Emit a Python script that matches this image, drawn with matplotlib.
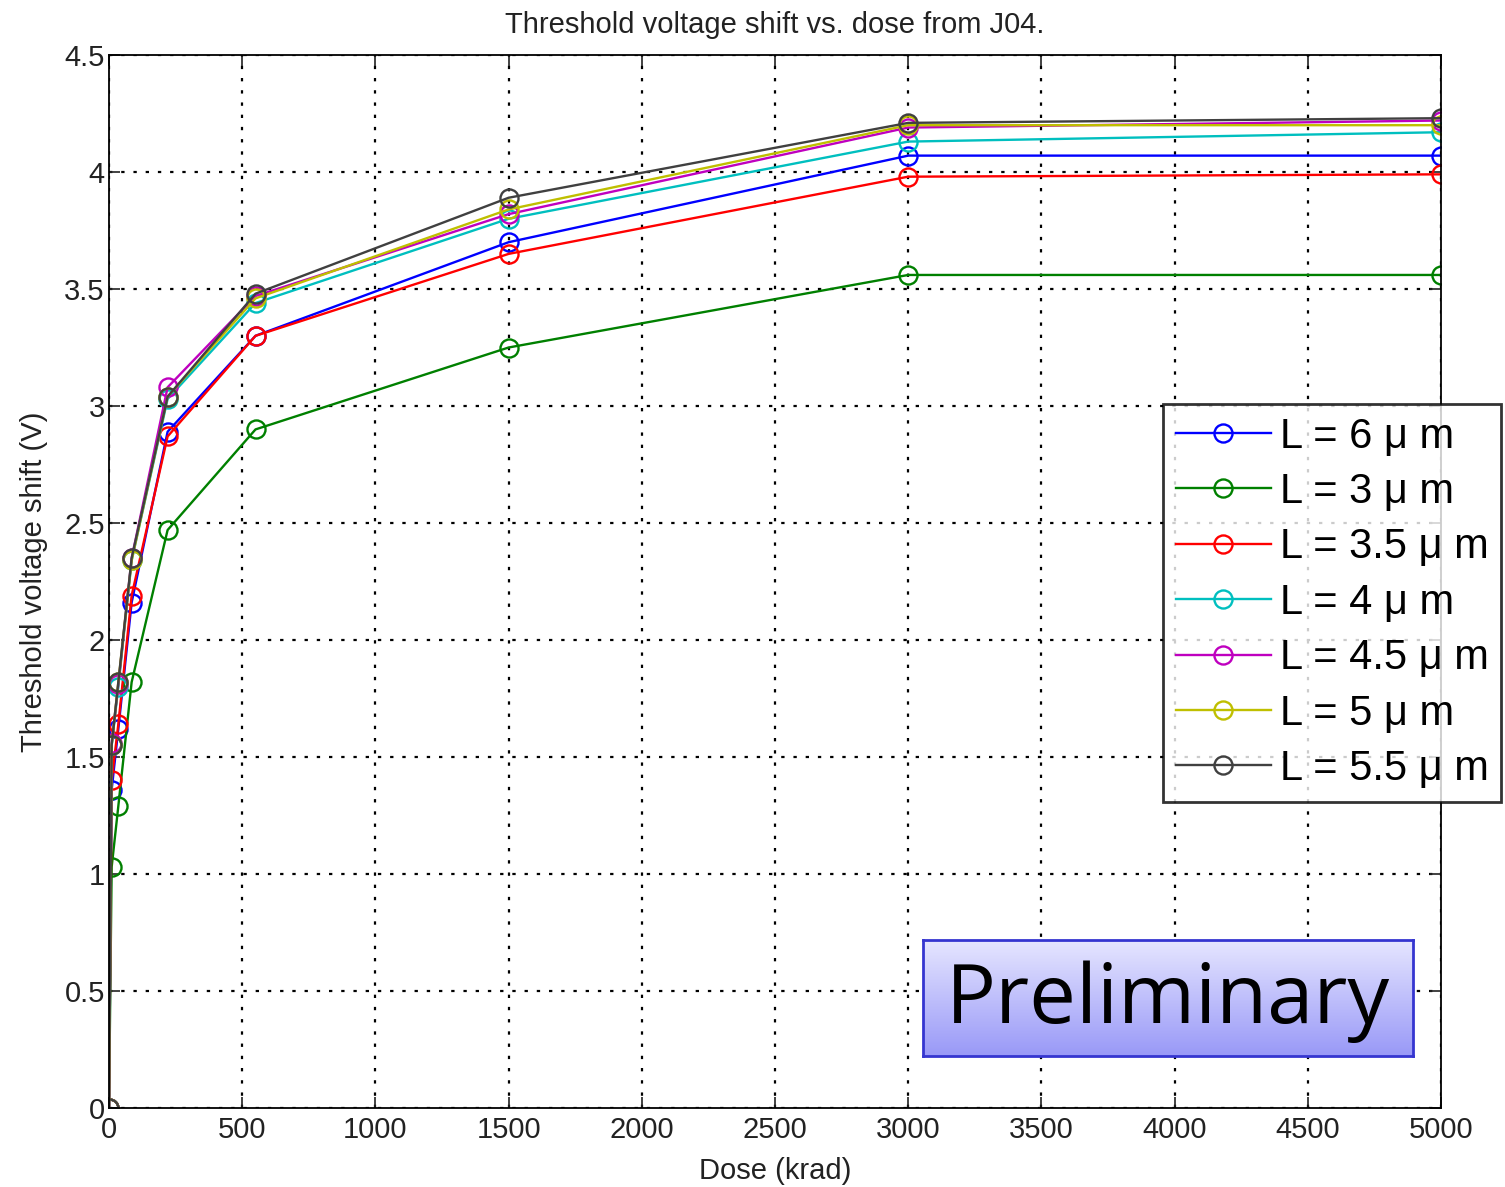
import numpy as np
import matplotlib.pyplot as plt

dose = [0, 10, 35, 85, 220, 550, 1500, 3000, 5000]

l6 = [0, 1.36, 1.62, 2.16, 2.89, 3.30, 3.70, 4.07, 4.07]
l3 = [0, 1.03, 1.29, 1.82, 2.47, 2.90, 3.25, 3.56, 3.56]
l35 = [0, 1.40, 1.64, 2.19, 2.87, 3.30, 3.65, 3.98, 3.99]
l4 = [0, 1.55, 1.80, 2.34, 3.03, 3.44, 3.80, 4.13, 4.17]
l45 = [0, 1.56, 1.81, 2.35, 3.08, 3.47, 3.82, 4.19, 4.22]
l5 = [0, 1.55, 1.82, 2.34, 3.04, 3.46, 3.84, 4.20, 4.20]
l55 = [0, 1.55, 1.82, 2.35, 3.04, 3.48, 3.89, 4.21, 4.23]

series = [l6, l3, l35, l4, l45, l5, l55]
labels = ['L = 6 μ m', 'L = 3 μ m', 'L = 3.5 μ m', 'L = 4 μ m',
          'L = 4.5 μ m', 'L = 5 μ m', 'L = 5.5 μ m']
colors = ['#0000ff', '#008000', '#ff0000', '#00bfbf', '#bf00bf', '#bfbf00', '#404040']

plt.rcParams['font.family'] = ['Liberation Sans', 'DejaVu Sans']

W, H = 1505, 1187
fig = plt.figure(figsize=(W / 100, H / 100), dpi=100)
ax = fig.add_axes([109 / W, 1 - 1108 / H, (1441 - 109) / W, (1108 - 55) / H])

for y, lab, c in zip(series, labels, colors):
    ax.plot(dose, y, '-o', color=c, label=lab, lw=1.7, ms=13,
            mfc='none', mew=1.7)

ax.set_xlim(0, 5000)
ax.set_ylim(0, 4.5)
ax.set_xticks(np.arange(0, 5001, 500))
ax.set_yticks(np.arange(0, 4.51, 0.5))
ax.set_yticklabels(['0', '0.5', '1', '1.5', '2', '2.5', '3', '3.5', '4', '4.5'])
ax.tick_params(direction='in', length=8, width=1.2, labelsize=21, pad=6,
               top=True, right=True, colors='#222222')
ax.tick_params(axis='y', pad=3)
ax.grid(True, color='black', linestyle=(0, (1.5, 4)), linewidth=1.6)
for s in ax.spines.values():
    s.set_linewidth(1.3)

ax.set_title('Threshold voltage shift vs. dose from J04.', fontsize=21, pad=16,
             color='#222222')
ax.set_xlabel('Dose (krad)', fontsize=21, labelpad=9, color='#222222')
ax.set_ylabel('Threshold voltage shift (V)', fontsize=21, labelpad=12,
              color='#222222')

leg = fig.legend(loc='upper left', bbox_to_anchor=(1163 / W, 1 - 404 / H),
                 fontsize=30, frameon=True, fancybox=False, handlelength=2.3,
                 labelspacing=0.37, borderpad=0.3, handletextpad=0.2,
                 borderaxespad=0)
leg.get_frame().set_edgecolor('black')
leg.get_frame().set_linewidth(2)

# "Preliminary" stamp with a vertical gradient
bx = fig.add_axes([923 / W, 1 - 1056 / H, 490 / W, 116 / H])
top = np.array([0.90, 0.90, 1.0])
bot = np.array([0.60, 0.60, 0.97])
t = np.linspace(0, 1, 100)[:, None, None]
grad = top * (1 - t) + bot * t
grad = np.repeat(grad, 2, axis=1)
bx.imshow(grad, aspect='auto', extent=[0, 1, 0, 1])
bx.set_xticks([])
bx.set_yticks([])
for s in bx.spines.values():
    s.set_color('#3535d0')
    s.set_linewidth(2)
bx.text(0.5, 0.47, 'Preliminary', ha='center', va='center', fontsize=60,
        family=['Open Sans', 'DejaVu Sans'], color='black')

fig.savefig('out.png', dpi=100)
